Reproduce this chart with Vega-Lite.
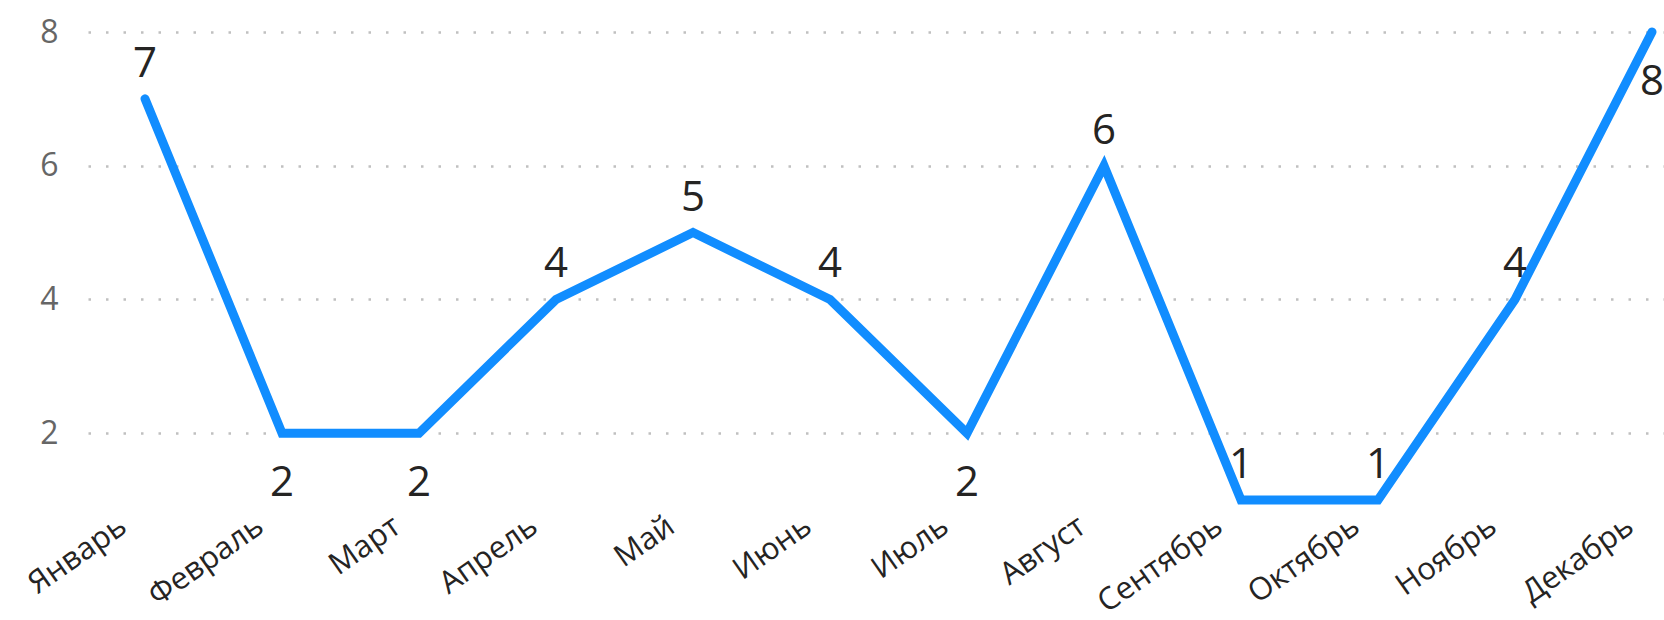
{
  "$schema": "https://vega.github.io/schema/vega-lite/v6.json",
  "autosize": {"type": "none"},
  "padding": {"left": 88, "top": 32, "right": 0, "bottom": 120},
  "width": 1576,
  "height": 468,
  "background": "white",
  "config": {
    "view": {"stroke": null},
    "font": "Open Sans"
  },
  "data": {
    "values": [
      {"month": "Январь", "value": 7},
      {"month": "Февраль", "value": 2},
      {"month": "Март", "value": 2},
      {"month": "Апрель", "value": 4},
      {"month": "Май", "value": 5},
      {"month": "Июнь", "value": 4},
      {"month": "Июль", "value": 2},
      {"month": "Август", "value": 6},
      {"month": "Сентябрь", "value": 1},
      {"month": "Октябрь", "value": 1},
      {"month": "Ноябрь", "value": 4},
      {"month": "Декабрь", "value": 8}
    ]
  },
  "encoding": {
    "x": {
      "field": "month",
      "type": "ordinal",
      "sort": null,
      "scale": {"type": "point", "padding": 0.252, "align": 0.826},
      "axis": {
        "title": null,
        "domain": false,
        "ticks": false,
        "tickSize": 0,
        "labelAngle": -35,
        "labelAlign": "right",
        "labelBaseline": "middle",
        "labelPadding": 23,
        "labelOffset": -22,
        "labelFontSize": 31,
        "labelColor": "#252423",
        "labelOverlap": false,
        "labelFont": "Open Sans",
        "grid": false
      }
    },
    "y": {
      "field": "value",
      "type": "quantitative",
      "scale": {"domain": [1, 8], "nice": false, "zero": false},
      "axis": {
        "title": null,
        "domain": false,
        "ticks": false,
        "values": [2, 4, 6, 8],
        "labelPadding": 30,
        "labelFontSize": 32,
        "labelColor": "#666666",
        "labelFont": "Open Sans",
        "grid": true,
        "gridColor": "#c0c0c0",
        "gridWidth": 2.5,
        "gridDash": [2.5, 15]
      }
    }
  },
  "layer": [
    {
      "mark": {"type": "line", "color": "#118DFF", "strokeWidth": 9, "strokeCap": "round", "strokeJoin": "miter"}
    },
    {
      "transform": [{"filter": "indexof(['Февраль','Март','Июль','Декабрь'], datum.month) < 0"}],
      "mark": {"type": "text", "fontSize": 42, "color": "#252423", "baseline": "alphabetic", "dy": -22, "font": "Open Sans"},
      "encoding": {"text": {"field": "value", "type": "quantitative"}}
    },
    {
      "transform": [{"filter": "indexof(['Февраль','Март','Июль','Декабрь'], datum.month) >= 0"}],
      "mark": {"type": "text", "fontSize": 42, "color": "#252423", "baseline": "alphabetic", "dy": 63, "font": "Open Sans"},
      "encoding": {"text": {"field": "value", "type": "quantitative"}}
    }
  ]
}
